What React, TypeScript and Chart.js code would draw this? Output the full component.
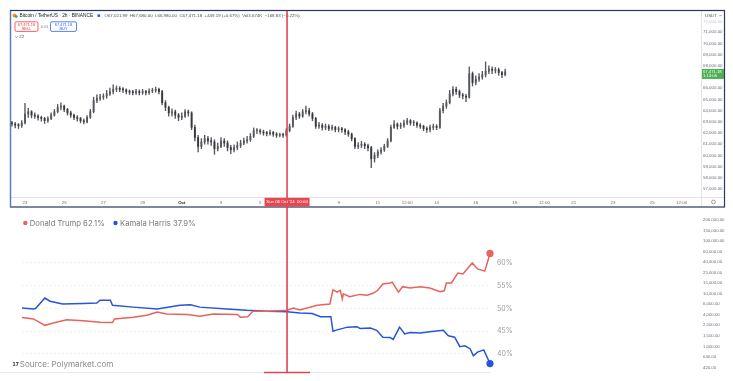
import React, { useEffect, useRef } from 'react';
import { Chart, registerables } from 'chart.js';
Chart.register(...registerables);

// ---------- BTC/USDT candles (4h resolution) ----------
const START_DAY = 1 / 3; // days after Sep 22 00:00 (first candle Sep 22 08:00)
const STEP_DAY = 1 / 6; // 4 hours
const FIRST_OPEN = 62900;
const LAST_PRICE = 67471.18;

const closes = [
  62800, 62700, 62650, 62900, 63700, 63900, 63600, 63500, 63400, 63300,
  63100, 63300, 63600, 63900, 64300, 64400, 64100, 63800, 63600, 63400,
  63300, 63100, 63000, 63400, 63900, 64900, 65100, 65200, 65300, 65500,
  65700, 65900, 66000, 65900, 65850, 65700, 65650, 65600, 65700, 65600,
  65700, 65600, 65750, 65800, 65900, 65700, 64700, 64300, 63800, 63900,
  63600, 63400, 63500, 63900, 63800, 62500, 61600, 60800, 61200, 61500,
  61300, 61200, 60600, 60800, 61300, 61100, 60700, 60500, 60700, 60900,
  61100, 61300, 61400, 61700, 62200, 62200, 62100, 62000, 61950, 62050,
  61900, 61800, 61850, 61800, 62200, 62600, 63400, 63700, 63500, 63900,
  64000, 63700, 63300, 62600, 62700, 62500, 62600, 62400, 62500, 62300,
  62350, 62300, 62100, 61900, 61500, 60800, 60900, 61000, 60850, 60700,
  59700, 60000, 60300, 60500, 60800, 61300, 62500, 62800, 62600, 62700,
  62900, 63100, 62900, 62900, 62700, 62600, 62400, 62300, 62500, 62600,
  62500, 64000, 64400, 64700, 65500, 65900, 65700, 65400, 65300, 65200,
  67300, 66500, 66800, 67000, 67200, 67500, 67700, 67600, 67650, 67400,
  67200, 67471.18,
];
const highs = [
  63050, 62950, 62850, 63100, 64650, 64200, 64000, 63800, 63650, 63500,
  63400, 63450, 63800, 64100, 64550, 64700, 64500, 64200, 63950, 63700,
  63550, 63400, 63250, 63550, 64100, 65200, 65400, 65450, 65500, 65800,
  66000, 66300, 66200, 66150, 66050, 65950, 65850, 65800, 65900, 65850,
  65900, 65800, 65950, 66000, 66100, 66000, 65800, 64900, 64400, 64150,
  64050, 63750, 63800, 64100, 64050, 63900, 62700, 61800, 61500, 61800,
  61700, 61600, 61400, 61100, 61600, 61500, 61300, 60900, 60950, 61200,
  61350, 61550, 61700, 61950, 62450, 62400, 62350, 62250, 62150, 62250,
  62150, 62050, 62000, 62000, 62400, 62800, 63600, 63950, 63850, 64100,
  64400, 64200, 63850, 63400, 62950, 62850, 62800, 62750, 62700, 62600,
  62550, 62500, 62400, 62250, 62000, 61600, 61150, 61250, 61150, 61000,
  60800, 60250, 60500, 60700, 61000, 61500, 62700, 63100, 62900, 62900,
  63150, 63300, 63200, 63100, 63000, 62850, 62700, 62550, 62700, 62800,
  62750, 64200, 64650, 64950, 65800, 66150, 66100, 65850, 65550, 65450,
  67900, 67450, 67100, 67300, 67500, 68350, 68000, 67900, 67850, 67800,
  67500, 67700,
];
const lows = [
  62600, 62450, 62400, 62500, 62800, 63400, 63350, 63300, 63150, 63050,
  62850, 62950, 63200, 63500, 63800, 64050, 63900, 63600, 63400, 63200,
  63050, 62900, 62800, 62900, 63300, 63800, 64700, 64900, 65000, 65100,
  65350, 65500, 65700, 65700, 65600, 65500, 65450, 65400, 65450, 65400,
  65450, 65400, 65450, 65600, 65650, 65500, 64500, 64000, 63500, 63500,
  63300, 63100, 63200, 63400, 63500, 62300, 61300, 60300, 60600, 61000,
  61000, 60900, 60100, 60400, 60700, 60800, 60400, 60150, 60300, 60500,
  60700, 60950, 61100, 61250, 61600, 61950, 61900, 61800, 61750, 61800,
  61700, 61600, 61650, 61600, 61700, 62100, 62500, 63200, 63300, 63400,
  63700, 63500, 63100, 62400, 62400, 62250, 62300, 62200, 62250, 62100,
  62100, 62050, 61850, 61700, 61300, 60600, 60600, 60700, 60600, 60400,
  58900, 59400, 59800, 60100, 60350, 60700, 61200, 62400, 62350, 62400,
  62500, 62750, 62700, 62650, 62500, 62400, 62200, 62050, 62100, 62300,
  62300, 62400, 63800, 64200, 64600, 65300, 65450, 65150, 65050, 64800,
  65100, 66200, 66300, 66600, 66800, 67000, 67300, 67300, 67350, 67150,
  66950, 67100,
];

const priceTicks = [57000, 58000, 59000, 60000, 61000, 62000, 63000, 64000, 65000, 66000, 68000, 69000, 70000, 71000];
const timeTickDays = [1, 3, 5, 7, 9, 11, 13, 15, 17, 19, 20.5, 22, 24, 26, 27.5, 29, 31, 33, 34.5];
const timeTickLabels = ['23', '25', '27', '29', 'Oct', '3', '5', '7', '9', '11', '12:00', '14', '16', '18', '12:00', '21', '23', '25', '12:00'];
const CROSS_DAY = 14.37;
const CROSS_LABEL = "Sun 06 Oct '24  00:00";

// ---------- Polymarket odds ----------
const trumpDays = [0, 1.1, 2.2, 3.0, 4.3, 5.9, 7.5, 8.7, 8.9, 10.7, 12.0, 13.0, 13.9, 15.9, 17.1, 18.4, 20.7, 21.0, 21.7, 22.2, 23.6, 25.5, 26.1, 26.7, 28.4, 29.6, 29.9, 30.3, 30.6, 30.8, 30.9, 31.5, 32.5, 33.2, 33.8, 34.2, 34.7, 35.4, 35.6, 36.2, 36.6, 37.3, 38.3, 39.2, 40.2, 40.6, 40.8, 41.3, 41.9, 42.4, 43.3, 43.8, 44.5, 45.0];
const trumpPct = [48.0, 47.7, 46.3, 46.8, 47.5, 47.3, 47.0, 46.9, 47.7, 48.1, 48.5, 49.2, 48.8, 48.7, 48.3, 48.8, 48.7, 48.1, 48.2, 49.4, 49.4, 49.6, 50.1, 49.7, 50.7, 51.0, 54.1, 53.6, 54.0, 52.1, 53.2, 52.6, 53.1, 52.9, 53.4, 54.0, 55.4, 55.6, 55.8, 53.6, 54.8, 54.5, 54.8, 54.5, 53.7, 53.9, 55.6, 55.6, 57.8, 57.6, 60.0, 58.7, 58.2, 62.1];
const harrisDays = [0, 1.1, 1.3, 2.2, 2.7, 3.9, 5.9, 7.2, 7.5, 8.5, 8.7, 10.7, 13.0, 15.2, 16.2, 17.1, 19.7, 21.6, 23.6, 25.5, 26.7, 27.9, 28.7, 29.7, 29.9, 30.3, 31.3, 32.2, 32.5, 33.5, 34.1, 34.7, 35.4, 35.7, 36.3, 36.8, 37.3, 38.3, 39.2, 40.5, 41.0, 41.6, 42.1, 42.6, 43.1, 43.4, 43.8, 44.4, 45.0];
const harrisPct = [50.1, 49.9, 50.0, 52.3, 51.6, 51.0, 51.1, 51.2, 51.8, 51.8, 50.7, 50.3, 49.9, 50.7, 50.8, 50.3, 49.9, 49.6, 49.4, 49.3, 49.0, 48.9, 48.2, 48.2, 45.0, 45.3, 45.9, 46.0, 45.6, 45.7, 45.2, 43.7, 43.6, 43.2, 45.9, 44.4, 44.7, 44.6, 44.9, 45.2, 44.0, 43.7, 41.6, 41.8, 41.1, 39.6, 40.4, 40.9, 37.9];
const pctTicks = [40, 45, 50, 55, 60];
const volLabels = ['200,000.00', '150,000.00', '100,000.00', '60,000.00', '40,000.00', '25,000.00', '15,000.00', '10,000.00', '6,000.00', '4,000.00', '2,500.00', '1,500.00', '1,000.00', '640.00', '420.00'];
const TRUMP_LABEL = 'Donald Trump 62.1%';
const HARRIS_LABEL = 'Kamala Harris 37.9%';
const SOURCE_LABEL = 'Source: Polymarket.com';

const TV_FONT = 'Liberation Sans';
const PM_FONT = 'Inter';
const RED = '#e8635b';
const BLUE = '#2755d8';
const CROSS = '#e0464f';

const fmtPrice = (v: number) =>
  v.toLocaleString('en-US', { minimumFractionDigits: 2, maximumFractionDigits: 2 });

export default function App() {
  const topRef = useRef<HTMLCanvasElement>(null);
  const botRef = useRef<HTMLCanvasElement>(null);
  const volRef = useRef<HTMLCanvasElement>(null);

  useEffect(() => {
    const opens = closes.map((c, i) => (i === 0 ? FIRST_OPEN : closes[i - 1]));
    const days = closes.map((_, i) => START_DAY + i * STEP_DAY);
    const up = closes.map((c, i) => c >= opens[i]);
    const wickData = days.map((d, i) => ({ x: d, y: [lows[i], highs[i]] }));
    const bodyData = days.map((d, i) => ({
      x: d,
      y: [Math.min(opens[i], closes[i]), Math.max(opens[i], closes[i])],
    }));

    let crossPx = 287;

    const overlayA = {
      id: 'overlayA',
      afterDraw(chart: any) {
        const ctx = chart.ctx as CanvasRenderingContext2D;
        const xs = chart.scales.x;
        const ys = chart.scales.y;
        crossPx = xs.getPixelForValue(CROSS_DAY);
        ctx.save();
        ctx.strokeStyle = '#e0e3eb';
        ctx.lineWidth = 1;
        ctx.beginPath();
        ctx.moveTo(701.5, 11); ctx.lineTo(701.5, 207);
        ctx.moveTo(10, 197.5); ctx.lineTo(724, 197.5);
        ctx.stroke();
        ctx.strokeStyle = '#2b3760';
        ctx.lineWidth = 1.2;
        ctx.strokeRect(10.5, 10.5, 714, 196.5);
        ctx.strokeStyle = '#5b78c4';
        ctx.beginPath(); ctx.moveTo(10.5, 11); ctx.lineTo(10.5, 207); ctx.stroke();

        ctx.textBaseline = 'middle';
        ctx.fillStyle = '#f7931a';
        ctx.beginPath(); ctx.arc(14.5, 15.5, 2, 0, Math.PI * 2); ctx.fill();
        ctx.fillStyle = '#26a17b';
        ctx.beginPath(); ctx.arc(16.3, 16.5, 1.3, 0, Math.PI * 2); ctx.fill();
        ctx.fillStyle = '#131722';
        ctx.font = `4.8px "${TV_FONT}"`;
        ctx.fillText('Bitcoin / TetherUS · 2h · BINANCE', 19.5, 15.8);
        ctx.fillStyle = '#2962ff';
        ctx.fillRect(97.5, 14.3, 2.6, 2.6);
        ctx.fillStyle = '#4a4e59';
        ctx.font = `4.4px "${TV_FONT}"`;
        ctx.fillText('O67,021.99  H67,680.00  L66,980.00  C67,471.18  +449.19 (+0.67%)  Vol3.674K  −168.83 (−0.22%)', 104.5, 15.8);

        const box = (x: number, w: number, color: string, t1: string, t2: string) => {
          ctx.fillStyle = '#ffffff';
          ctx.strokeStyle = color;
          ctx.lineWidth = 0.8;
          ctx.beginPath();
          (ctx as any).roundRect(x, 21.8, w, 9.6, 1.5);
          ctx.fill(); ctx.stroke();
          ctx.fillStyle = color;
          ctx.textAlign = 'center';
          ctx.font = `3.9px "${TV_FONT}"`;
          ctx.fillText(t1, x + w / 2, 24.8);
          ctx.fillText(t2, x + w / 2, 28.9);
          ctx.textAlign = 'left';
        };
        box(15, 23, '#f23645', '67,471.18', 'SELL');
        box(50.5, 26, '#2962ff', '67,471.18', 'BUY');
        ctx.fillStyle = '#787b86';
        ctx.font = `3.8px "${TV_FONT}"`;
        ctx.fillText('0.01', 41, 27);
        ctx.strokeStyle = '#555';
        ctx.lineWidth = 0.6;
        ctx.beginPath(); ctx.moveTo(15.3, 36.3); ctx.lineTo(16.5, 37.5); ctx.lineTo(17.7, 36.3); ctx.stroke();
        ctx.fillStyle = '#555';
        ctx.font = `4.4px "${TV_FONT}"`;
        ctx.fillText('22', 19.2, 37.2);

        ctx.fillStyle = '#50535e';
        ctx.font = `4.4px "${TV_FONT}"`;
        ctx.fillText('USDT', 705, 15.5);
        ctx.strokeStyle = '#50535e';
        ctx.beginPath(); ctx.moveTo(719.5, 15); ctx.lineTo(720.6, 16.1); ctx.lineTo(721.7, 15); ctx.stroke();
        ctx.fillStyle = '#c8cad0';
        ctx.fillText('72,000.00', 703, 21.5);

        ctx.strokeStyle = '#787b86';
        ctx.lineWidth = 0.7;
        ctx.beginPath(); ctx.arc(713.5, 202, 1.9, 0, Math.PI * 2); ctx.stroke();

        const py = ys.getPixelForValue(LAST_PRICE);
        ctx.fillStyle = '#4caf50';
        ctx.fillRect(702, py - 2.8, 22, 10);
        ctx.fillStyle = '#ffffff';
        ctx.font = `4.2px "${TV_FONT}"`;
        ctx.fillText(fmtPrice(LAST_PRICE), 703, py - 0.2);
        ctx.fillText('1:13:06', 703, py + 4.3);

        ctx.strokeStyle = CROSS;
        ctx.lineWidth = 1.6;
        ctx.beginPath(); ctx.moveTo(crossPx, 11); ctx.lineTo(crossPx, chart.height); ctx.stroke();
        ctx.fillStyle = '#e8474f';
        ctx.fillRect(crossPx - 22.5, 197.8, 45, 8.6);
        ctx.fillStyle = '#ffffff';
        ctx.textAlign = 'center';
        ctx.font = `4.3px "${TV_FONT}"`;
        ctx.fillText(CROSS_LABEL, crossPx, 202.2);
        ctx.restore();
      },
    };

    const chartA = new Chart(topRef.current as HTMLCanvasElement, {
      type: 'bar',
      data: {
        datasets: [
          {
            label: 'body',
            data: bodyData as any,
            backgroundColor: up.map((u) => (u ? '#55585e' : '#36383e')),
            barThickness: 1.2,
            grouped: false,
            minBarLength: 1,
            order: 0,
          } as any,
          {
            label: 'wick',
            data: wickData as any,
            backgroundColor: '#55575d',
            barThickness: 0.7,
            grouped: false,
            order: 1,
          } as any,
        ],
      },
      options: {
        animation: false,
        responsive: false,
        maintainAspectRatio: false,
        layout: { padding: { left: 10, top: 11, right: 9, bottom: 3 } },
        plugins: { legend: { display: false }, tooltip: { enabled: false } },
        scales: {
          x: {
            type: 'linear',
            min: 0.2347,
            max: 35.49,
            offset: false,
            grid: { display: false, drawTicks: false },
            border: { display: false },
            afterBuildTicks: (s: any) => {
              s.ticks = timeTickDays.map((v) => ({ value: v }));
            },
            afterFit: (s: any) => {
              s.height = 10;
            },
            ticks: {
              autoSkip: false,
              maxRotation: 0,
              minRotation: 0,
              padding: 3,
              color: (c: any) => (c.index === 4 ? '#131722' : '#6a6d78'),
              font: (c: any) => ({ family: TV_FONT, size: 4.4, weight: c.index === 4 ? 'bold' : 'normal' }),
              callback: (_v: any, i: number) => timeTickLabels[i],
            },
          },
          y: {
            type: 'linear',
            position: 'right',
            min: 56286,
            max: 72893,
            grid: { display: false, drawTicks: false },
            border: { display: false },
            afterBuildTicks: (s: any) => {
              s.ticks = priceTicks.map((v) => ({ value: v }));
            },
            afterFit: (s: any) => {
              s.width = 23;
            },
            ticks: {
              padding: 2,
              color: '#6a6d78',
              font: { family: TV_FONT, size: 4.4 },
              callback: (v: any) => fmtPrice(Number(v)),
            },
          },
        },
      },
      plugins: [overlayA],
    });

    const overlayB = {
      id: 'overlayB',
      afterDraw(chart: any) {
        const ctx = chart.ctx as CanvasRenderingContext2D;
        ctx.save();
        ctx.textBaseline = 'middle';
        ctx.font = `7.7px "${PM_FONT}"`;
        ctx.fillStyle = RED;
        ctx.beginPath(); ctx.arc(25.3, 13, 2.2, 0, Math.PI * 2); ctx.fill();
        ctx.fillStyle = '#7a7a7a';
        ctx.fillText(TRUMP_LABEL, 29.8, 13.2);
        ctx.fillStyle = BLUE;
        ctx.beginPath(); ctx.arc(115.5, 13, 2.2, 0, Math.PI * 2); ctx.fill();
        ctx.fillStyle = '#7a7a7a';
        ctx.fillText(HARRIS_LABEL, 120, 13.2);
        ctx.fillStyle = '#131722';
        ctx.font = `bold 5.5px "${TV_FONT}"`;
        ctx.fillText('17', 12.6, 154.6);
        ctx.fillStyle = '#8a8a8a';
        ctx.font = `8.1px "${PM_FONT}"`;
        ctx.fillText(SOURCE_LABEL, 19.8, 154.3);
        ctx.strokeStyle = '#e9e9e9';
        ctx.lineWidth = 1;
        ctx.beginPath(); ctx.moveTo(0, 162.5); ctx.lineTo(490, 162.5); ctx.stroke();
        ctx.strokeStyle = CROSS;
        ctx.lineWidth = 1.6;
        ctx.beginPath();
        ctx.moveTo(crossPx, 0); ctx.lineTo(crossPx, 162.5);
        ctx.moveTo(crossPx - 23, 162.5); ctx.lineTo(crossPx + 23, 162.5);
        ctx.stroke();
        ctx.restore();
      },
    };

    const radii = (n: number) => Array.from({ length: n }, (_, i) => (i === n - 1 ? 3.6 : 0));

    const chartB = new Chart(botRef.current as HTMLCanvasElement, {
      type: 'line',
      data: {
        datasets: [
          {
            label: TRUMP_LABEL,
            data: trumpDays.map((d, i) => ({ x: d, y: trumpPct[i] })),
            borderColor: RED,
            backgroundColor: RED,
            borderWidth: 1.5,
            pointRadius: radii(trumpDays.length),
            pointHoverRadius: 0,
            pointBorderWidth: 0,
            tension: 0,
            clip: 10,
          },
          {
            label: HARRIS_LABEL,
            data: harrisDays.map((d, i) => ({ x: d, y: harrisPct[i] })),
            borderColor: BLUE,
            backgroundColor: BLUE,
            borderWidth: 1.5,
            pointRadius: radii(harrisDays.length),
            pointHoverRadius: 0,
            pointBorderWidth: 0,
            tension: 0,
            clip: 10,
          },
        ],
      },
      options: {
        animation: false,
        responsive: false,
        maintainAspectRatio: false,
        layout: { padding: { left: 22, top: 14, right: 12, bottom: 14 } },
        plugins: { legend: { display: false }, tooltip: { enabled: false } },
        scales: {
          x: { type: 'linear', min: 0, max: 45, display: false },
          y: {
            type: 'linear',
            position: 'right',
            min: 37.14,
            max: 68.57,
            grid: { color: '#f1f1f1', drawTicks: false },
            border: { display: false, dash: [2, 2] },
            afterBuildTicks: (s: any) => {
              s.ticks = pctTicks.map((v) => ({ value: v }));
            },
            afterFit: (s: any) => {
              s.width = 28;
            },
            ticks: {
              padding: 7,
              color: '#9a9a9a',
              font: { family: PM_FONT, size: 7 },
              callback: (v: any) => `${v}%`,
            },
          },
        },
      },
      plugins: [overlayB],
    });

    const chartC = new Chart(volRef.current as HTMLCanvasElement, {
      type: 'line',
      data: { labels: [], datasets: [] },
      options: {
        animation: false,
        responsive: false,
        maintainAspectRatio: false,
        layout: { padding: { left: 0, top: 8, right: 2, bottom: 8 } },
        plugins: { legend: { display: false }, tooltip: { enabled: false } },
        scales: {
          x: { type: 'linear', min: 0, max: 1, display: false },
          y: {
            type: 'linear',
            position: 'right',
            min: -0.185,
            max: 14.527,
            reverse: true,
            grid: { display: false, drawTicks: false },
            border: { display: false },
            afterBuildTicks: (s: any) => {
              s.ticks = volLabels.map((_, i) => ({ value: i }));
            },
            afterFit: (s: any) => {
              s.width = 31;
            },
            ticks: {
              padding: 3,
              color: '#6a6d78',
              font: { family: TV_FONT, size: 4.3 },
              callback: (v: any) => volLabels[Math.round(Number(v))] ?? '',
            },
          },
        },
      },
    });

    return () => {
      chartA.destroy();
      chartB.destroy();
      chartC.destroy();
    };
  }, []);

  return (
    <div style={{ position: 'fixed', left: 0, top: 0, width: 733, height: 381, background: '#ffffff' }}>
      <canvas ref={topRef} width={733} height={210} style={{ position: 'absolute', left: 0, top: 0, width: 733, height: 210 }} />
      <canvas ref={botRef} width={530} height={171} style={{ position: 'absolute', left: 0, top: 210, width: 530, height: 171 }} />
      <canvas ref={volRef} width={43} height={171} style={{ position: 'absolute', left: 690, top: 210, width: 43, height: 171 }} />
    </div>
  );
}
